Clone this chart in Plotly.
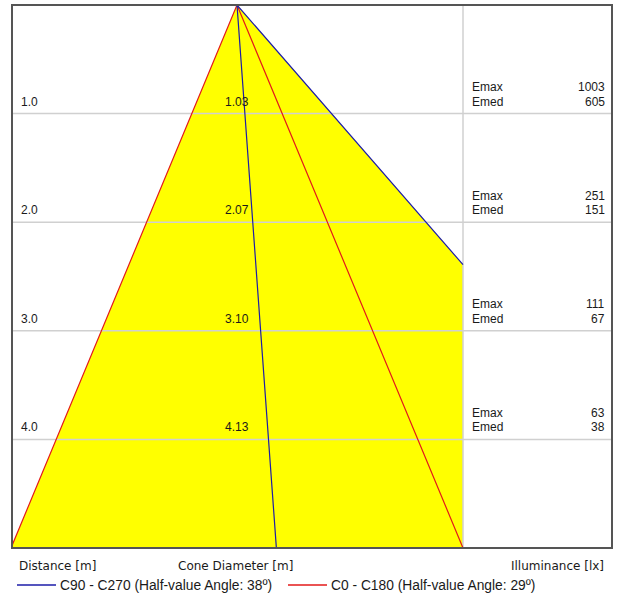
import plotly.graph_objects as go

# ---- data ----
distances = [1.0, 2.0, 3.0, 4.0]                 # Distance [m]
cone_diameters = ["1.03", "2.07", "3.10", "4.13"]  # Cone Diameter [m]
emax = [1003, 251, 111, 63]                       # Illuminance Emax [lx]
emed = [605, 151, 67, 38]                         # Illuminance Emed [lx]
max_distance = 5.0
red_half_per_m = 0.5165          # C0-C180 cone half width per metre
blue_edge_per_m = [0.09, 1.08]   # C90-C270 edges: horizontal offset per metre
red_label = "C0 - C180 (Half-value Angle: 29º)"
blue_label = "C90 - C270 (Half-value Angle: 38º)"

RED = "#e31a1a"
BLUE = "#1c1ca8"
GRID = "#d0d0d0"
TXT = "#1a1a1a"
NUM_FONT = "Liberation Sans, Arial, sans-serif"
CAP_FONT = "DejaVu Sans, sans-serif"

W, H = 617, 598
L, R, T, B = 12, 5, 5, 50

red_max = red_half_per_m * max_distance        # divider position (red edge at max distance)
px_per_m = 226 / red_max
x_min = (L - 237) / px_per_m
x_max = (612 - 237) / px_per_m

# blue cone edges (right one clipped by the divider)
blue_left_end = (blue_edge_per_m[0] * max_distance, max_distance)
d_clip = min(max_distance, red_max / blue_edge_per_m[1])
blue_right_end = (blue_edge_per_m[1] * d_clip, d_clip)

fig = go.Figure()

# yellow union of cones
fx = [0, -red_max, red_max, red_max, 0]
fy = [0, max_distance, max_distance, d_clip, 0]
fig.add_trace(go.Scatter(x=fx, y=fy, fill="toself", fillcolor="#ffff00",
                         mode="lines", line=dict(width=0), hoverinfo="skip",
                         showlegend=False))

# grid lines
for d in distances:
    fig.add_trace(go.Scatter(x=[x_min, x_max], y=[d, d], mode="lines",
                             line=dict(color=GRID, width=1.5), hoverinfo="skip",
                             showlegend=False))
fig.add_trace(go.Scatter(x=[red_max, red_max], y=[0, max_distance], mode="lines",
                         line=dict(color=GRID, width=1.5), hoverinfo="skip",
                         showlegend=False))

# cone edges
fig.add_trace(go.Scatter(x=[-red_max, 0, red_max], y=[max_distance, 0, max_distance],
                         mode="lines", line=dict(color=RED, width=1.2),
                         hoverinfo="skip", showlegend=False))
fig.add_trace(go.Scatter(x=[blue_left_end[0], 0, blue_right_end[0]],
                         y=[blue_left_end[1], 0, blue_right_end[1]],
                         mode="lines", line=dict(color=BLUE, width=1.2),
                         hoverinfo="skip", showlegend=False))

ann = []
def A(**kw):
    base = dict(showarrow=False, font=dict(family=NUM_FONT, size=12, color=TXT))
    base.update(kw)
    ann.append(base)

for d, cd, ex, em in zip(distances, cone_diameters, emax, emed):
    A(x=(19 - L) / 600, xref="paper", y=d - 0.11, yref="y", text=f"{d:.1f}",
      xanchor="left", yanchor="middle")
    A(x=0, xref="x", y=d - 0.11, yref="y", text=cd, xanchor="center", yanchor="middle")
    A(x=(470 - L) / 600, xref="paper", y=d - 0.245, yref="y", text="Emax",
      xanchor="left", yanchor="middle")
    A(x=(470 - L) / 600, xref="paper", y=d - 0.11, yref="y", text="Emed",
      xanchor="left", yanchor="middle")
    A(x=(607 - L) / 600, xref="paper", y=d - 0.245, yref="y", text=str(ex),
      xanchor="right", yanchor="middle")
    A(x=(607 - L) / 600, xref="paper", y=d - 0.11, yref="y", text=str(em),
      xanchor="right", yanchor="middle")

ph = H - T - B
def py(p):
    return (H - B - p) / ph

cap = dict(family=CAP_FONT, size=12, color=TXT)
A(x=(17 - L) / 600, xref="paper", y=py(566), yref="paper", text="Distance [m]",
  xanchor="left", yanchor="middle", font=cap)
A(x=(176 - L) / 600, xref="paper", y=py(566), yref="paper", text="Cone Diameter [m]",
  xanchor="left", yanchor="middle", font=cap)
A(x=(606 - L) / 600, xref="paper", y=py(566), yref="paper", text="Illuminance [lx]",
  xanchor="right", yanchor="middle", font=cap)

leg = dict(family=NUM_FONT, size=13.8, color=TXT)
A(x=(58 - L) / 600, xref="paper", y=py(585), yref="paper", text=blue_label,
  xanchor="left", yanchor="middle", font=leg)
A(x=(329 - L) / 600, xref="paper", y=py(585), yref="paper", text=red_label,
  xanchor="left", yanchor="middle", font=leg)

shapes = [
    dict(type="line", xref="paper", yref="paper", x0=(17 - L) / 600, x1=(56 - L) / 600,
         y0=py(585), y1=py(585), line=dict(color=BLUE, width=1.5)),
    dict(type="line", xref="paper", yref="paper", x0=(288 - L) / 600, x1=(327 - L) / 600,
         y0=py(585), y1=py(585), line=dict(color=RED, width=1.5)),
    dict(type="rect", xref="paper", yref="paper", x0=0, x1=1, y0=0, y1=1,
         line=dict(color="#555555", width=2), layer="above"),
]

fig.update_layout(
    width=W, height=H,
    margin=dict(l=L, r=R, t=T, b=B),
    paper_bgcolor="white", plot_bgcolor="white",
    xaxis=dict(range=[x_min, x_max], visible=False, fixedrange=True),
    yaxis=dict(range=[max_distance, 0], visible=False, fixedrange=True),
    annotations=ann, shapes=shapes, showlegend=False,
)

fig.write_html(
    "out.html",
    config={"displayModeBar": False},
    post_script="document.body.style.margin='0';document.body.style.overflow='hidden';",
)
